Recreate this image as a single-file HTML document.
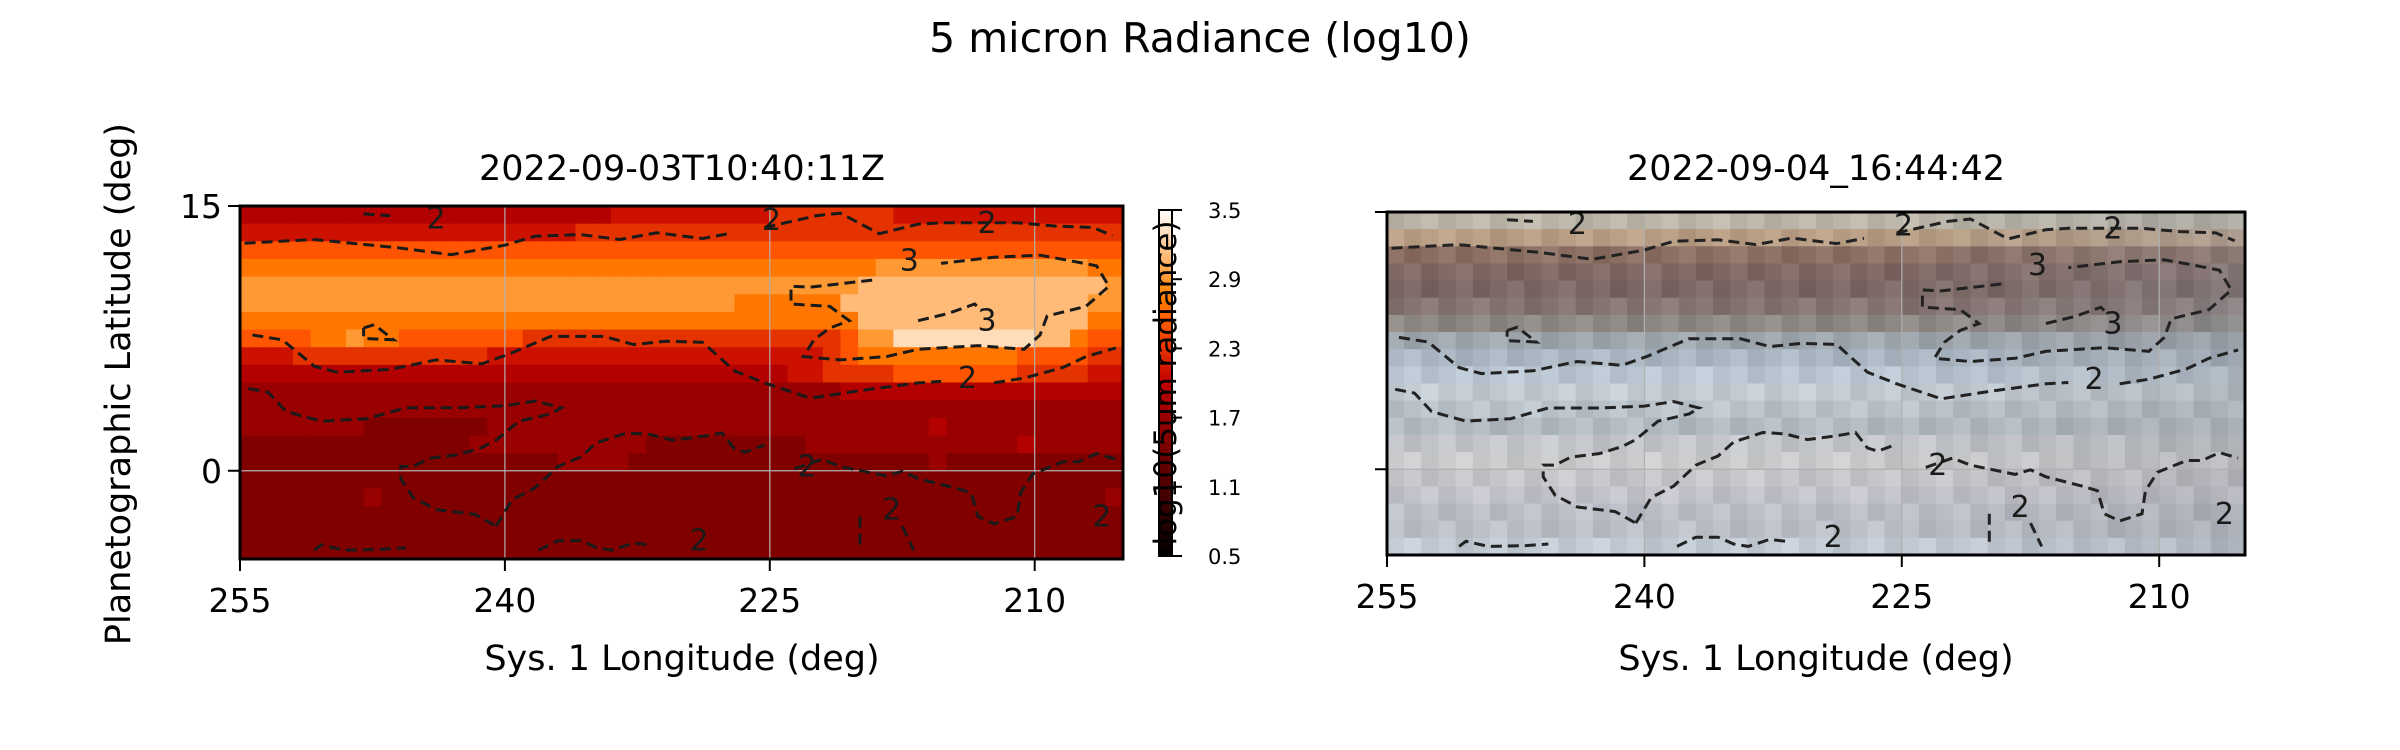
<!DOCTYPE html>
<html><head><meta charset="utf-8"><style>
html,body{margin:0;padding:0;background:#fff;}
svg{display:block;font-family:"DejaVu Sans","Liberation Sans",sans-serif;}
</style></head><body>
<svg id="fig" width="2400" height="750" viewBox="0 0 2400 750" xmlns="http://www.w3.org/2000/svg">
<rect width="2400" height="750" fill="#fff"/>
<text x="1200" y="52" font-size="41" text-anchor="middle">5 micron Radiance (log10)</text>
<text x="682" y="180" font-size="35" text-anchor="middle">2022-09-03T10:40:11Z</text>
<text x="1816" y="180" font-size="35" text-anchor="middle">2022-09-04_16:44:42</text>
<text transform="translate(130,384) rotate(-90)" font-size="35" text-anchor="middle">Planetographic Latitude (deg)</text>
<text x="682" y="670" font-size="35" text-anchor="middle">Sys. 1 Longitude (deg)</text>
<text x="1816" y="670" font-size="35" text-anchor="middle">Sys. 1 Longitude (deg)</text>
<g id="left"></g>
<g id="right"></g>
<g id="cbar"></g>
</svg>
<script>
const lonTicks = [255, 240, 225, 210];
const latTicks = [15, 0];
const cbarTicks = [0.5, 1.1, 1.7, 2.3, 2.9, 3.5];
const radianceRows = [
"22222222222222222222233333333344444443333333333333",
"33333333333333333334444444444444444444444444444444",
"55555555555555555555555555555555555555555555555555",
"66666666666666666666666666666666666677777777777766",
"77777777777777777777777777777777777888888888888887",
"77777777777777777777777777776666668888888888888877",
"66666666666666666666666666666666666888888888888866",
"55556676655555554444444444444444445779999999988655",
"33344444444444333333333333333333345666666666555544",
"22222222222222222222222222222223344445555555444433",
"11111111111111111111111111111111112222222222222222",
"11111111111111111111111111111111111111111111111111",
"11111110000000111111111111111111111111121111111111",
"00000000000001111111111000000000111111111111211111",
"00000000000000000011110000000000000000010000000000",
"00000000000000000000000000000000000000000000000000",
"00000001000000000000000000000000000000000000000001",
"00000000000000000000000000000000000000000000000000",
"00000000000000000000000000000000000000000000000000",
"00000000000000000000000000000000000000000000000000"];
const imageRowColors = ["#bcb6a8","#b89e84","#8c7064","#806864","#7c6864","#867472","#8e8884","#9ea6ae","#aab6c2","#bac6d2","#c2cad2","#bac2ca","#b2bac2","#c2c6ca","#cacacc","#c6c6ca","#c2c2ca","#babec6","#babec6","#c2cad4"];
const contourLevels = ["2","2","2","3","3","2","2","2","2","2","2","2","2","2","2"];
const contourLines = [
[[254.74,12.89],[250.84,13.1],[246.08,12.64],[243.05,12.24],[240,12.78],[238.3,13.29],[235.7,13.38],[233.5,13.1],[231.4,13.48],[228.8,13.16],[227.2,13.46]],
[[225.3,13.78],[222.3,14.46],[221,14.59],[218.8,13.43],[216.6,13.97],[215.3,14.05],[211,14.05],[208.8,13.86],[206.7,13.78],[205.6,13.32]],
[[248,14.55],[246.5,14.45]],
[[219.2,10.8],[222.7,10.4],[223.8,10.45],[223.8,9.45],[221.6,9.31],[220.5,8.5],[221.6,8.09],[222.5,7.42],[223.1,6.47],[221,6.28],[218.4,6.47],[216.6,6.88],[213.2,7.09],[210.6,6.88],[209.7,7.69],[209.3,8.77],[207.1,9.31],[205.8,10.45],[206.5,11.61],[208.2,11.94],[209.7,12.21],[212.3,12.1],[215.3,11.75]],
[[216.6,8.5],[214.9,8.91],[213.4,9.45],[213,9.04]],
[[254.3,7.69],[252.6,7.42],[250.8,5.93],[249.5,5.58],[246.5,5.74],[243.9,6.28],[241.3,6.06],[239.8,6.6],[237.4,7.61],[234.4,7.61],[232.7,7.15],[230.9,7.34],[228.8,7.28],[227,5.66],[225.3,4.98],[222.7,4.11],[219.7,4.57],[216.6,4.98],[215.3,5.06]],
[[212.3,4.98],[210.6,5.25],[208.4,5.85],[207.1,6.47],[205.4,6.96]],
[[248,8.09],[247.4,8.28],[246.3,7.42],[248,7.5],[248,8.09]],
[[254.52,4.66],[253.4,4.44],[252.4,3.36],[250.4,2.81],[247.8,2.95],[245.6,3.57],[242.6,3.57],[240,3.68],[238.3,3.95],[236.8,3.57],[237.4,3.22],[239.2,2.81],[240.5,1.73],[241.3,1.32],[242.6,0.92],[244.3,0.7],[245.2,0.24],[245.9,0.24],[245.9,-0.44],[245.2,-1.52],[243.9,-2.2],[241.7,-2.47],[240.5,-3.14]],
[[240.5,-3.14],[239.6,-1.65],[238.3,-0.98],[237,0.24],[235.7,0.78],[234.8,1.59],[233.1,2.14],[231.8,2.06],[230.5,1.73],[228.8,1.95],[227.7,2.14],[227,1.24],[226.4,1.05],[225.3,1.46]],
[[223.6,0.11],[222.05,0.65],[221,0.24],[218.4,-0.3],[217.5,-0.03],[216.6,-0.44],[214.5,-0.98],[213.6,-1.25],[213.2,-2.6],[212.3,-3.01],[211,-2.6],[210.8,-1.25],[210.1,-0.17],[208.4,0.51],[207.5,0.51],[206.5,0.97],[205.4,0.65]],
[[238.1,-4.5],[237,-3.96],[235.7,-3.96],[234.8,-4.36],[233.95,-4.5],[232.7,-4.09],[231.8,-4.2]],
[[250.8,-4.5],[250.4,-4.2],[249.1,-4.5],[246.9,-4.45],[245.6,-4.36]],
[[219.9,-2.6],[219.9,-4.5]],
[[217.5,-3.14],[216.85,-4.5]]];
const labelText = ["2","2","2","3","3","2","2","2","2","2"];
const labelLon = [243.9,224.9,212.7,217.1,212.7,213.8,222.9,218.1,206.2,229.0];
const labelLat = [14.3,14.2,14.05,11.9,8.5,5.25,0.24,-2.2,-2.6,-3.96];

const NS="http://www.w3.org/2000/svg";
function mk(tag, attrs, parent){const e=document.createElementNS(NS,tag);for(const k in attrs)e.setAttribute(k,attrs[k]);parent.appendChild(e);return e;}
function gistHeat(v){let t=(v-0.5)/3;t=Math.max(0,Math.min(1,t));
 const r=Math.min(1,1.5*t),g=Math.max(0,Math.min(1,2*t-1)),b=Math.max(0,Math.min(1,4*t-3));
 return `rgb(${Math.round(r*255)},${Math.round(g*255)},${Math.round(b*255)})`;}
function digitVal(d){return 1.5+0.2*d;}
function hexToRgb(h){return [parseInt(h.slice(1,3),16),parseInt(h.slice(3,5),16),parseInt(h.slice(5,7),16)];}

function panel(g, x0, w, y0, h, kind){
 const px=lon=>x0+(255-lon)/50*w, py=lat=>y0+(15-lat)/20*h;
 const cw=w/50, ch=h/20;
 for(let j=0;j<20;j++){for(let i=0;i<50;i++){
   let fill;
   if(kind==='rad'){fill=gistHeat(digitVal(+radianceRows[j][i]));}
   else{const c=hexToRgb(imageRowColors[j]);const f=Math.max(0,(i-28)/22)*0.35;
     const jit=((i*37+j*53)%11-5)*2.2;
     const m=[140,144,152];
     fill=`rgb(${c.map((v,k)=>Math.round(v*(1-f)+m[k]*f+jit)).join(',')})`;}
   const r=mk('rect',{x:px(255-i).toFixed(2),y:py(15-j).toFixed(2),width:(cw+0.6).toFixed(2),height:(ch+0.6).toFixed(2),fill:fill},g);
   
   
 }}
 lonTicks.forEach(t=>{const l=mk('line',{x1:px(t),x2:px(t),y1:y0,y2:y0+h,stroke:'#b0b0b0','stroke-width':1.2},g);
   });
 latTicks.forEach(t=>{const l=mk('line',{x1:x0,x2:x0+w,y1:py(t),y2:py(t),stroke:'#b0b0b0','stroke-width':1.2},g);
   });
 contourLines.forEach((pts,k)=>{
   const p=mk('polyline',{points:pts.map(q=>px(q[0]).toFixed(1)+','+py(q[1]).toFixed(1)).join(' '),fill:'none',stroke:kind==='rad'?'#1a1a1a':'#222','stroke-width':3,'stroke-dasharray':'11 6'},g);
   
   
 });
 labelText.forEach((s,k)=>{const t=mk('text',{x:px(labelLon[k]),y:py(labelLat[k])+10,'font-size':30,'text-anchor':'middle',fill:'#1a1a1a'},g);t.textContent=s;
   });
 const fr=mk('rect',{x:x0,y:y0,width:w,height:h,fill:'none',stroke:'#000','stroke-width':3},g);
 
 lonTicks.forEach(t=>{const l=mk('line',{x1:px(t),x2:px(t),y1:y0+h,y2:y0+h+12,stroke:'#000','stroke-width':2},g);
   
   const tx=mk('text',{x:px(t),y:y0+h+53,'font-size':33,'text-anchor':'middle'},g);tx.textContent=t;
   });
 latTicks.forEach(t=>{const l=mk('line',{x1:x0-12,x2:x0,y1:py(t),y2:py(t),stroke:'#000','stroke-width':2},g);
   
   if(kind==='rad'){const tx=mk('text',{x:x0-18,y:py(t)+12,'font-size':33,'text-anchor':'end'},g);tx.textContent=t;
     }});
}
panel(document.getElementById('left'),240,883,206,353,'rad');
panel(document.getElementById('right'),1387,858,212,343,'img');

const cb=document.getElementById('cbar');
const cbx=1159,cbw=13,cby0=210,cby1=556;
const cy=v=>cby1-(v-0.5)/3*(cby1-cby0);
const defs=mk('defs',{},cb);const lg=mk('linearGradient',{id:'gh',x1:0,y1:1,x2:0,y2:0},defs);
for(let s=0;s<=20;s++){mk('stop',{offset:s/20,'stop-color':gistHeat(0.5+3*s/20)},lg);}
const bar=mk('rect',{x:cbx,y:cby0,width:cbw,height:cby1-cby0,fill:'url(#gh)',stroke:'#000','stroke-width':2},cb);

cbarTicks.forEach(v=>{const l=mk('line',{x1:cbx+cbw,x2:cbx+cbw+10,y1:cy(v),y2:cy(v),stroke:'#000','stroke-width':2},cb);
 
 const t=mk('text',{x:1208,y:cy(v)+8,'font-size':21},cb);t.textContent=v.toFixed(1);
 });
const cl=mk('text',{transform:`translate(1176,383) rotate(-90)`,'font-size':31,'text-anchor':'middle'},cb);
cl.textContent='log10(5um radiance)';


</script>
</body></html>
